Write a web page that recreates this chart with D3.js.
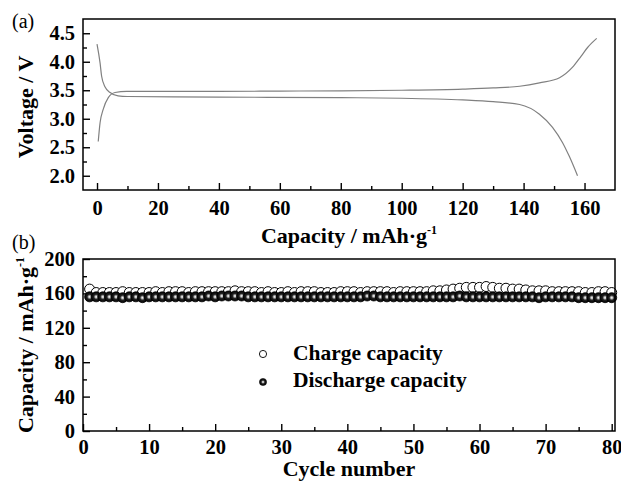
<!DOCTYPE html>
<html>
<head>
<meta charset="utf-8">
<script src="https://cdn.jsdelivr.net/npm/d3@7"></script>
<style>
  body { margin: 0; background: #fff; }
</style>
</head>
<body>
<svg id="chart" width="621" height="481"></svg>
<script>
// (a) charge / discharge curves
const chargeCap = [0.4, 1, 2, 3.7, 5.9, 9.7, 20, 40, 60, 80, 100, 120, 130, 138.7, 145.2, 151.8, 156, 158.9, 161, 164];
const chargeV = [2.6, 2.93, 3.16, 3.37, 3.46, 3.48, 3.48, 3.48, 3.485, 3.49, 3.5, 3.52, 3.54, 3.57, 3.63, 3.72, 3.9, 4.1, 4.25, 4.41];
const dischargeCap = [0, 1, 1.5, 2.6, 4.3, 6.9, 10, 40, 80, 100, 120, 130, 138.7, 145.2, 149.5, 152.8, 155, 157.7];
const dischargeV = [4.31, 3.98, 3.75, 3.56, 3.46, 3.40, 3.39, 3.38, 3.37, 3.36, 3.33, 3.30, 3.25, 3.08, 2.85, 2.58, 2.34, 2.0];

// (b) cycling
const chargeCycle = [165, 161, 161, 161, 161, 162, 161, 161, 161, 161,
  162, 161, 162, 162, 162, 161, 162, 162, 162, 162,
  162, 162, 163, 162, 162, 162, 161, 162, 161, 161,
  162, 161, 162, 162, 162, 161, 161, 161, 162, 162,
  162, 161, 162, 162, 162, 162, 161, 162, 162, 162,
  162, 162, 163, 163, 164, 165, 166, 167, 167, 167,
  168, 167, 166, 166, 165, 165, 164, 163, 163, 163,
  162, 162, 162, 162, 162, 161, 161, 162, 162, 161];
const dischargeCycle = [156, 156, 156, 156, 156, 155, 156, 156, 155, 156,
  156, 156, 156, 156, 156, 156, 156, 156, 157, 156,
  157, 157, 157, 157, 156, 156, 156, 156, 156, 156,
  156, 156, 156, 156, 156, 156, 156, 156, 156, 156,
  156, 156, 157, 157, 156, 156, 156, 156, 156, 156,
  156, 156, 156, 156, 156, 156, 157, 156, 156, 156,
  156, 156, 156, 156, 156, 156, 156, 156, 155, 156,
  156, 156, 156, 156, 155, 155, 155, 155, 155, 155];

const legendLabels = ["Charge capacity", "Discharge capacity"];

const FONT = "'Liberation Serif', 'Times New Roman', 'DejaVu Serif', serif";

const svg = d3.select("#chart").attr("font-family", FONT);

// ball gradient for filled markers
const defs = svg.append("defs");
const grad = defs.append("radialGradient").attr("id", "ball")
  .attr("cx", "50%").attr("cy", "50%").attr("r", "50%");
grad.append("stop").attr("offset", "0%").attr("stop-color", "#ffffff");
grad.append("stop").attr("offset", "20%").attr("stop-color", "#c0c0c0");
grad.append("stop").attr("offset", "50%").attr("stop-color", "#222");
grad.append("stop").attr("offset", "100%").attr("stop-color", "#000");

function styleAxis(g, fontSize) {
  g.attr("font-family", FONT);
  g.select(".domain").remove();
  g.selectAll(".tick line").attr("stroke", "#000").attr("stroke-width", 1.4);
  g.selectAll(".tick text").attr("fill", "#000").attr("font-family", FONT)
    .attr("font-size", fontSize).attr("font-weight", "bold");
}

// ---------- panel (a) ----------
const xA = d3.scaleLinear().domain([-4.6, 170]).range([83, 615]);
const yA = d3.scaleLinear().domain([1.75, 4.75]).range([190, 19]);

const gA = svg.append("g");

gA.append("g").attr("transform", "translate(0,190)")
  .call(d3.axisBottom(xA).tickValues(d3.range(10, 170, 20)).tickSize(-4).tickFormat(""))
  .call(g => styleAxis(g, 20));
gA.append("g").attr("transform", "translate(0,190)")
  .call(d3.axisBottom(xA).tickValues(d3.range(0, 161, 20)).tickSize(-7).tickPadding(10))
  .call(g => styleAxis(g, 20.5));
gA.append("g").attr("transform", "translate(83,0)")
  .call(d3.axisLeft(yA).tickValues([2.25, 2.75, 3.25, 3.75, 4.25]).tickSize(-4).tickFormat(""))
  .call(g => styleAxis(g, 20));
gA.append("g").attr("transform", "translate(83,0)")
  .call(d3.axisLeft(yA).tickValues([2.0, 2.5, 3.0, 3.5, 4.0, 4.5]).tickSize(-7).tickPadding(8).tickFormat(d3.format(".1f")))
  .call(g => styleAxis(g, 20.5));

const lineA = d3.line().curve(d3.curveMonotoneX)
  .x(d => xA(d[0])).y(d => yA(d[1]));

gA.append("path").datum(chargeCap.map((c, i) => [c, chargeV[i]]))
  .attr("d", lineA).attr("fill", "none").attr("stroke", "#808080").attr("stroke-width", 1.2);
gA.append("path").datum(dischargeCap.map((c, i) => [c, dischargeV[i]]))
  .attr("d", lineA).attr("fill", "none").attr("stroke", "#808080").attr("stroke-width", 1.2);

gA.append("rect").attr("x", 83).attr("y", 19).attr("width", 532).attr("height", 171)
  .attr("fill", "none").attr("stroke", "#000").attr("stroke-width", 1.5);

gA.append("text").attr("x", 12).attr("y", 28).attr("font-size", 20).text("(a)");
gA.append("text").attr("transform", "translate(33,107) rotate(-90)")
  .attr("text-anchor", "middle").attr("font-size", 22).attr("font-weight", "bold")
  .text("Voltage / V");
const tA = gA.append("text").attr("x", 349).attr("y", 243)
  .attr("text-anchor", "middle").attr("font-size", 22).attr("font-weight", "bold");
tA.append("tspan").text("Capacity / mAh·g");
tA.append("tspan").attr("dy", -9).attr("font-size", 12).text("-1");

// ---------- panel (b) ----------
const xB = d3.scaleLinear().domain([0, 80.5]).range([83, 615]);
const yB = d3.scaleLinear().domain([0, 200]).range([431, 259]);

const gB = svg.append("g");

gB.append("g").attr("transform", "translate(0,431)")
  .call(d3.axisBottom(xB).tickValues(d3.range(5, 80, 10)).tickSize(-4).tickFormat(""))
  .call(g => styleAxis(g, 20));
gB.append("g").attr("transform", "translate(0,431)")
  .call(d3.axisBottom(xB).tickValues(d3.range(0, 81, 10)).tickSize(-7).tickPadding(8))
  .call(g => styleAxis(g, 20.5));
gB.append("g").attr("transform", "translate(83,0)")
  .call(d3.axisLeft(yB).tickValues(d3.range(20, 200, 40)).tickSize(-4).tickFormat(""))
  .call(g => styleAxis(g, 20));
gB.append("g").attr("transform", "translate(83,0)")
  .call(d3.axisLeft(yB).tickValues(d3.range(0, 201, 40)).tickSize(-7).tickPadding(8))
  .call(g => styleAxis(g, 20.5));

gB.append("g").selectAll("circle").data(chargeCycle).join("circle")
  .attr("cx", (d, i) => xB(i + 1)).attr("cy", d => yB(d)).attr("r", 5)
  .attr("fill", "#fff").attr("stroke", "#000").attr("stroke-width", 1);
gB.append("g").selectAll("circle").data(dischargeCycle).join("circle")
  .attr("cx", (d, i) => xB(i + 1)).attr("cy", d => yB(d)).attr("r", 5)
  .attr("fill", "url(#ball)").attr("stroke", "#000").attr("stroke-width", 0.8);

gB.append("rect").attr("x", 83).attr("y", 259).attr("width", 532).attr("height", 172)
  .attr("fill", "none").attr("stroke", "#000").attr("stroke-width", 1.5);

// legend
const leg = gB.append("g");
leg.append("circle").attr("cx", 263).attr("cy", 354).attr("r", 3.6)
  .attr("fill", "#fff").attr("stroke", "#000").attr("stroke-width", 0.9);
leg.append("circle").attr("cx", 263).attr("cy", 382).attr("r", 3.6)
  .attr("fill", "url(#ball)").attr("stroke", "#000").attr("stroke-width", 0.5);
leg.selectAll("text").data(legendLabels).join("text")
  .attr("x", 293).attr("y", (d, i) => 360 + i * 27)
  .attr("font-size", 21.5).attr("font-weight", "bold").text(d => d);

gB.append("text").attr("x", 12).attr("y", 249).attr("font-size", 20).text("(b)");
const tB = gB.append("text").attr("transform", "translate(33,345) rotate(-90)")
  .attr("text-anchor", "middle").attr("font-size", 22).attr("font-weight", "bold");
tB.append("tspan").text("Capacity / mAh·g");
tB.append("tspan").attr("dy", -9).attr("font-size", 12).text("-1");
gB.append("text").attr("x", 349).attr("y", 476)
  .attr("text-anchor", "middle").attr("font-size", 22).attr("font-weight", "bold")
  .text("Cycle number");
</script>
</body>
</html>
